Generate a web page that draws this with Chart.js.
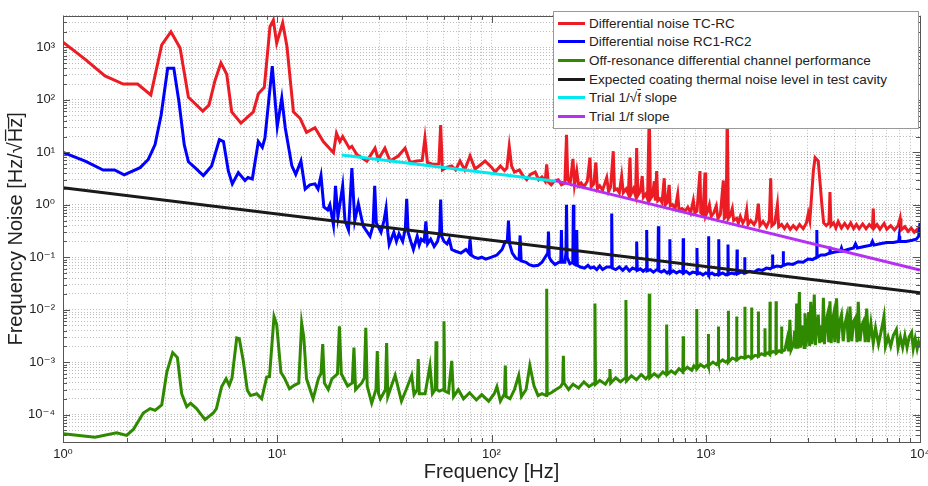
<!DOCTYPE html>
<html>
<head>
<meta charset="utf-8">
<script src="https://cdn.jsdelivr.net/npm/chart.js@4.4.1/dist/chart.umd.min.js"></script>
<style>
html, body { margin: 0; padding: 0; background: #fff; }
#wrap { position: relative; width: 928px; height: 486px; }
#legend { position: absolute; left: 553px; top: 11px; width: 364px; background: #fff; border: 1px solid #999;
  font-family: 'Liberation Sans', Arial, sans-serif; font-size: 13.5px; color: #222; padding: 2px 0 2px 0; }
.row { display: flex; align-items: center; height: 18.6px; white-space: nowrap; }
.swatch { width: 27px; height: 3px; margin: 0 4px 0 4px; }
.ov { text-decoration: overline; }
</style>
</head>
<body>
<div id="wrap">
  <canvas id="chart" width="928" height="486"></canvas>
  <div id="legend"></div>
</div>
<script>
// [frequency Hz, noise Hz/sqrt(Hz)]
const tcRc = [[1,1260],[1.27,590],[1.57,286],[1.91,200],[2.23,200],[2.57,124],[2.89,1120],[3.19,1990],[3.52,970],[3.85,112],[4.13,85],[4.49,61],[4.8,79],[5.12,231],[5.46,508],[5.81,308],[6.13,59],[6.77,36],[7.73,59],[8.16,130],[8.7,173],[9.25,2470],[9.59,3300],[9.94,1200],[10.6,2940],[11.1,1040],[11.9,59],[12.8,44],[13.7,24],[15.0,29.5],[16.4,16],[18.3,9.8],[18.9,23],[19.6,16],[20.2,20],[21.7,12],[22.3,13],[23.5,9.1],[26.2,6.8],[28.6,12],[29.6,7.3],[31.8,12],[33.6,6.8],[36.7,8.5],[39.5,12],[41.7,6.4],[44.8,6.8],[47.5,7],[48.9,18.7],[50.2,6.4],[53.5,5.9],[56.8,6],[57.9,33],[59,4.6],[62,5.2],[65.2,5.5],[68,4.6],[71.3,6.8],[75,4.6],[79.4,8.5],[83.8,4.8],[88,5.6],[93.3,6.8],[100,5.2],[104,4.2],[110,5.5],[115,4.5],[118,5],[121,13],[124,5.5],[128,4.2],[135,4.6],[140,3.6],[146,3.0],[152,3.8],[160,4.2],[166,3.0],[172,3.4],[178,2.8],[181,5.9],[184,2.7],[190,2.4],[196,2.8],[205,3.0],[212,2.4],[220,2.6],[224,21.5],[227,3.0],[233,2.6],[240,7.5],[244,2.4],[250,4.4],[255,2.3],[262,2.6],[270,2.2],[280,2.8],[288,7.9],[292,2.2],[300,2.5],[307,6.4],[312,2.0],[320,2.3],[330,1.9],[345,3.3],[352,1.8],[360,2.2],[370,10.5],[375,1.9],[385,2.0],[395,1.7],[405,3.5],[412,1.7],[425,2.0],[435,1.6],[443,7.9],[448,1.6],[460,2.0],[470,1.5],[476,12],[482,1.5],[495,1.8],[505,3.5],[512,1.4],[525,1.6],[535,1.3],[545,60],[552,1.3],[565,1.5],[575,2.8],[582,1.2],[590,4.4],[597,1.2],[610,1.3],[625,1.1],[640,3.2],[648,1.0],[660,1.1],[675,2.4],[683,0.95],[700,1.0],[720,0.85],[740,1.6],[750,0.8],[775,0.85],[800,0.75],[825,0.9],[850,0.7],[875,1.2],[890,0.7],[910,0.75],[940,4.4],[948,0.7],[970,0.65],[992,4.1],[1000,0.62],[1020,0.75],[1040,1.0],[1060,0.6],[1090,0.7],[1120,0.95],[1140,0.55],[1170,0.65],[1208,2.9],[1220,0.55],[1245,0.6],[1260,60],[1275,0.55],[1300,0.62],[1330,0.85],[1350,0.5],[1394,0.55],[1420,0.45],[1450,0.6],[1490,0.45],[1530,0.55],[1553,0.79],[1575,0.42],[1620,0.5],[1680,0.42],[1720,0.5],[1760,1.05],[1790,0.4],[1850,0.48],[1920,0.38],[1980,0.5],[2010,3.2],[2035,0.4],[2100,0.45],[2160,1.0],[2190,0.38],[2260,0.42],[2330,0.35],[2400,0.42],[2480,0.34],[2560,0.4],[2650,0.34],[2740,0.42],[2850,0.35],[2950,0.45],[3010,0.68],[3060,0.5],[3120,1.5],[3180,4.5],[3240,7.9],[3350,6.8],[3420,2.5],[3480,1.05],[3550,0.45],[3650,0.4],[3760,0.45],[3800,1.75],[3840,0.4],[3950,0.45],[4050,0.36],[4150,0.48],[4300,0.36],[4450,0.44],[4600,0.36],[4750,0.45],[4900,0.35],[5050,0.42],[5200,0.35],[5400,0.43],[5600,0.35],[5800,0.42],[6000,0.36],[6050,0.85],[6100,0.36],[6300,0.42],[6500,0.34],[6800,0.44],[7000,0.34],[7300,0.4],[7600,0.33],[7900,0.4],[8070,0.55],[8150,0.33],[8500,0.38],[8800,0.31],[9100,0.36],[9400,0.3],[9700,0.34],[9900,0.3],[10000,0.38]];

const rc1Rc2 = [[1,10],[1.27,6.8],[1.54,4.6],[1.74,4.6],[1.93,3.7],[2.29,5.1],[2.5,7.3],[2.69,14],[2.87,51],[3.08,400],[3.29,400],[3.48,90],[3.68,14],[3.85,6.6],[4.13,5.1],[4.52,3.6],[4.94,5.5],[5.37,17.4],[5.61,16],[5.91,4.4],[6.17,2.5],[6.58,4.1],[7.07,2.9],[7.3,3.3],[7.65,3.1],[8.16,16],[8.52,12.5],[8.76,18.7],[9.48,440],[10,31],[10.5,108],[10.9,29],[11.7,5.5],[12.2,3.8],[12.9,6.8],[13.5,2.0],[14.2,2.4],[15,2.5],[15.5,2.0],[16,3.6],[16.5,0.91],[17.2,0.8],[17.6,1.0],[18.3,0.41],[18.7,2.3],[19.2,0.59],[20.2,2.3],[20.7,0.5],[21.5,0.33],[22.3,5.0],[23,0.5],[23.9,1.05],[25.2,0.39],[27.1,0.25],[28,0.4],[28.5,2.3],[29,0.45],[30.5,0.3],[31.5,0.5],[32.2,0.85],[32.8,0.3],[33.3,0.175],[35,0.3],[36,0.2],[37,0.28],[38.5,0.2],[39.6,0.35],[40.2,1.3],[40.8,0.3],[42,0.2],[43.2,0.14],[45,0.25],[46,0.17],[47,0.22],[48.5,0.2],[49.4,0.48],[50.3,0.18],[52,0.22],[54,0.16],[56,0.2],[57.3,0.3],[57.9,1.25],[58.6,0.25],[60,0.2],[62,0.18],[63.5,0.22],[65.2,0.14],[68,0.13],[72,0.12],[76,0.14],[78.5,0.12],[79.4,0.22],[80.5,0.11],[83,0.1],[86.8,0.095],[90,0.1],[94,0.092],[100,0.1],[106,0.11],[112,0.14],[116,0.2],[118.5,0.2],[120,0.5],[121.5,0.18],[125,0.12],[130,0.095],[134.5,0.09],[136,0.26],[137.5,0.085],[145,0.08],[150,0.072],[157,0.068],[165,0.07],[172,0.08],[178,0.1],[183,0.12],[184.5,0.31],[186,0.1],[190,0.085],[198,0.072],[206,0.08],[210.5,0.08],[212,0.33],[213.5,0.08],[220,0.08],[222.5,0.12],[224,1.0],[225.5,0.1],[232,0.075],[239.5,0.08],[241,1.0],[242.5,0.075],[248.5,0.07],[250,0.33],[251.5,0.07],[260,0.065],[272,0.062],[282,0.07],[290,0.062],[300,0.065],[310,0.058],[320,0.068],[330,0.058],[345,0.065],[362,0.065],[364,0.68],[366,0.062],[380,0.058],[395,0.065],[410,0.056],[425,0.065],[440,0.055],[455,0.062],[473,0.058],[476,0.2],[479,0.056],[495,0.06],[510,0.054],[527,0.06],[530,0.33],[533,0.055],[550,0.058],[570,0.052],[590,0.058],[598,0.06],[601,0.39],[604,0.055],[620,0.052],[640,0.056],[660,0.05],[677,0.055],[680,0.22],[683,0.05],[705,0.055],[730,0.05],[755,0.054],[782,0.05],[785,0.23],[788,0.05],[810,0.054],[840,0.048],[870,0.052],[906,0.05],[910,0.15],[914,0.048],[940,0.05],[970,0.046],[1000,0.05],[1026,0.048],[1030,0.25],[1034,0.046],[1070,0.05],[1100,0.046],[1146,0.048],[1150,0.22],[1154,0.046],[1200,0.05],[1240,0.046],[1266,0.048],[1270,0.175],[1274,0.047],[1320,0.05],[1360,0.048],[1396,0.05],[1400,0.14],[1404,0.048],[1460,0.052],[1516,0.05],[1520,0.1],[1524,0.05],[1600,0.054],[1680,0.052],[1760,0.058],[1840,0.056],[1920,0.062],[2000,0.06],[2045,0.064],[2050,0.113],[2055,0.064],[2150,0.068],[2250,0.066],[2295,0.07],[2300,0.13],[2305,0.07],[2420,0.075],[2550,0.073],[2700,0.082],[2850,0.08],[3000,0.092],[3150,0.09],[3290,0.1],[3300,0.33],[3310,0.1],[3450,0.11],[3600,0.11],[3780,0.12],[3800,0.16],[3820,0.12],[4000,0.125],[4250,0.13],[4300,0.15],[4350,0.13],[4600,0.14],[4900,0.15],[5000,0.18],[5100,0.15],[5500,0.16],[5900,0.17],[6000,0.2],[6100,0.17],[6500,0.18],[7000,0.19],[7500,0.19],[7950,0.2],[8000,0.25],[8050,0.2],[8600,0.2],[9200,0.21],[9600,0.22],[9850,0.25],[9950,0.35],[10000,0.45]];

const offResonance = [[1,4.3e-5],[1.41,3.7e-5],[1.78,4.5e-5],[1.98,4e-5],[2.13,5.2e-5],[2.37,1.07e-4],[2.55,1.3e-4],[2.69,1.2e-4],[2.89,1.53e-4],[3.05,6.4e-4],[3.25,1.52e-3],[3.42,1.22e-3],[3.58,2.5e-4],[3.78,1.42e-4],[3.94,1.65e-4],[4.2,1.3e-4],[4.6,8e-5],[5.03,1.07e-4],[5.2,1.3e-4],[5.5,3.4e-4],[5.77,4.8e-4],[5.97,3.6e-4],[6.15,5e-4],[6.47,2.9e-3],[6.65,2.8e-3],[6.94,1.06e-3],[7.25,2.9e-4],[7.5,2.3e-4],[8.02,2.5e-4],[8.46,2e-4],[8.93,5.2e-4],[9.2,5.3e-4],[9.66,7.4e-3],[9.94,5.2e-3],[10.4,6.4e-4],[10.8,5e-4],[11.4,3.1e-4],[12,3.6e-4],[12.6,4e-4],[13,5.5e-3],[13.3,3e-3],[13.7,4.8e-4],[14.7,2e-4],[15.6,5e-4],[16,6e-4],[16.3,2.2e-3],[16.6,4e-4],[17.3,3e-4],[18,4.8e-4],[19.1,6e-4],[19.5,4.8e-3],[19.9,6e-4],[21.3,3.5e-4],[22.4,4e-4],[22.8,1.9e-3],[23.2,3e-4],[24.8,4e-4],[25.5,5e-4],[25.9,4.5e-3],[26.3,3.5e-4],[27.6,1.65e-4],[28.9,3e-4],[29.3,1.63e-3],[29.7,2.5e-4],[30.3,2e-4],[32,3e-4],[32.4,2.3e-3],[32.8,2.2e-4],[35.5,5.6e-4],[38,1.8e-4],[40,3e-4],[42.4,5.6e-4],[43.5,2.4e-4],[45,3e-4],[45.5,1.14e-3],[46,2.5e-4],[49,2.5e-4],[51.6,8.6e-4],[53,2.5e-4],[54.6,3e-4],[55.1,2.5e-3],[55.6,3e-4],[57,2.8e-4],[59.5,3e-4],[60,6e-3],[60.5,2.8e-4],[63,2.6e-4],[65.2,1.06e-3],[66.5,2.2e-4],[70,3e-4],[74,2e-4],[79,2.6e-4],[85,1.9e-4],[90,2.4e-4],[97,1.8e-4],[103,2.5e-4],[106,3.4e-4],[110,1.8e-4],[115,2.5e-4],[116,8.6e-4],[117,2.2e-4],[122,2e-4],[128,3e-4],[134,5.6e-4],[138,2.2e-4],[145,3e-4],[151,8.6e-4],[158,3.5e-4],[165,2.3e-4],[172,2.5e-4],[180,2.3e-4],[181,0.025],[182,2.4e-4],[190,2.6e-4],[200,3e-4],[210,3.4e-4],[215,4e-4],[216.5,1.32e-3],[218,4e-4],[229,3e-4],[240,3.8e-4],[255,3.2e-4],[270,4.2e-4],[285,3.4e-4],[302,4e-4],[304,0.0131],[306,3.8e-4],[320,4.5e-4],[340,3.8e-4],[355,5e-4],[357,7.4e-4],[360,4e-4],[380,5e-4],[400,4.2e-4],[421,5e-4],[424,0.0152],[427,4.4e-4],[450,5.5e-4],[475,4.6e-4],[500,5.8e-4],[525,4.8e-4],[542,5.5e-4],[545,0.02],[548,5e-4],[575,6e-4],[600,5.2e-4],[630,6.5e-4],[654,5.8e-4],[657,5.2e-3],[660,5.8e-4],[690,6.8e-4],[720,6e-4],[750,7.5e-4],[782,6.5e-4],[785,3.1e-3],[788,6.8e-4],[820,8e-4],[860,7e-4],[880,8.5e-4],[905,7.5e-4],[908,0.0103],[911,7.5e-4],[945,9e-4],[985,8e-4],[1025,9e-4],[1028,3.45e-3],[1031,8.5e-4],[1080,1e-3],[1120,9e-4],[1142,1e-3],[1145,4.8e-3],[1148,9.5e-4],[1200,1.1e-3],[1240,1e-3],[1272,1.1e-3],[1275,9.5e-3],[1278,1e-3],[1330,1.2e-3],[1390,1.1e-3],[1394,7.4e-3],[1398,1.1e-3],[1460,1.25e-3],[1520,1.2e-3],[1524,0.0114],[1528,1.2e-3],[1580,1.3e-3],[1633,1.2e-3],[1637,0.011],[1641,1.2e-3],[1700,1.35e-3],[1756,1.3e-3],[1760,9.2e-3],[1764,1.3e-3],[1820,1.45e-3],[1886,1.35e-3],[1890,4.4e-3],[1894,1.4e-3],[1950,1.5e-3],[1990,1.4e-3],[1995,0.0141],[2000,1.45e-3],[2060,1.6e-3],[2125,1.5e-3],[2130,0.0145],[2135,1.5e-3],[2200,1.65e-3],[2255,1.55e-3],[2260,4.8e-3],[2265,1.6e-3],[2340,1.7e-3],[2400,2.8e-3],[2440,1.6e-3],[2470,6.4e-3],[2500,1.7e-3],[2570,2.2e-3],[2600,4e-3],[2630,1.8e-3],[2655,0.0131],[2690,1.8e-3],[2735,0.0217],[2770,1.9e-3],[2820,3e-3],[2850,5e-3],[2880,1.9e-3],[2905,8.5e-3],[2935,2e-3],[2980,3.5e-3],[3020,9e-3],[3055,2e-3],[3090,0.0141],[3130,2.2e-3],[3170,4e-3],[3210,0.0194],[3250,2.1e-3],[3300,5e-3],[3350,8e-3],[3400,2.3e-3],[3450,5e-3],[3500,2.4e-3],[3540,0.0168],[3580,2.2e-3],[3640,6e-3],[3700,8e-3],[3750,2.4e-3],[3800,0.0145],[3850,2.3e-3],[3900,6e-3],[3950,8e-3],[4000,2.4e-3],[4080,0.0165],[4150,2.3e-3],[4220,6e-3],[4300,8e-3],[4380,2.5e-3],[4450,5e-3],[4550,7.5e-3],[4630,2.4e-3],[4710,0.0114],[4800,2.5e-3],[4900,6e-3],[5000,7e-3],[5080,2.4e-3],[5150,0.0141],[5250,2.5e-3],[5350,5e-3],[5450,6e-3],[5550,2.4e-3],[5640,0.0105],[5750,2.4e-3],[5900,5.5e-3],[6050,2.3e-3],[6200,4.5e-3],[6400,2.2e-3],[6600,4e-3],[6790,7.4e-3],[6900,2e-3],[7100,3e-3],[7300,2e-3],[7500,3.2e-3],[7760,4.2e-3],[7900,1.9e-3],[8100,3e-3],[8300,1.9e-3],[8500,3.2e-3],[8700,1.9e-3],[8900,3e-3],[9140,3.7e-3],[9300,1.8e-3],[9500,2.8e-3],[9700,1.8e-3],[9850,2.4e-3],[10000,1.9e-3]];

const coatingNoise = [[1,2.1],[10000,0.021]];
const trialSqrt = [[20,8.9],[200,2.8]];
const trialInv = [[200,2.85],[10000,0.057]];

const seriesLabels = ['Differential noise TC-RC', 'Differential noise RC1-RC2', 'Off-resonance differential channel performance',
  'Expected coating thermal noise level in test cavity', 'Trial 1/√f slope', 'Trial 1/f slope'];
const seriesData = [tcRc, rc1Rc2, offResonance, coatingNoise, trialSqrt, trialInv];
const seriesColors = ['#ec1c24', '#0000ff', '#2f8a00', '#1a1a1a', '#00e8f0', '#b530f0'];

const xRange = [1, 1e4];
const yRange = [3e-5, 4e3];

const supDigits = {'0':'⁰','1':'¹','2':'²','3':'³','4':'⁴','5':'⁵','6':'⁶','7':'⁷','8':'⁸','9':'⁹','-':'⁻'};
function isDecade(v) {
  const l = Math.log10(v);
  return Math.abs(l - Math.round(l)) < 1e-9;
}
function decadeLabel(v) {
  if (!isDecade(v)) return '';
  const e = String(Math.round(Math.log10(v)));
  return '10' + e.split('').map(c => supDigits[c]).join('');
}
function logTicks(min, max) {
  const t = [];
  for (let e = -6; e <= 5; e++) {
    for (let k = 1; k <= 9; k++) {
      const v = k * Math.pow(10, e);
      if (v >= min * 0.9999 && v <= max * 1.0001) t.push({value: v});
    }
  }
  return t;
}

// box round the plot with small inward ticks, like the original
const frame = {
  id: 'frame',
  afterDatasetsDraw(chart) {
    const {ctx, chartArea: a, scales} = chart;
    ctx.save();
    ctx.strokeStyle = '#555';
    ctx.lineWidth = 1;
    ctx.beginPath();
    scales.x.ticks.forEach(t => {
      const px = Math.round(scales.x.getPixelForValue(t.value)) + 0.5;
      const len = isDecade(t.value) ? 7 : 4;
      ctx.moveTo(px, a.bottom); ctx.lineTo(px, a.bottom - len);
      ctx.moveTo(px, a.top); ctx.lineTo(px, a.top + len);
    });
    scales.y.ticks.forEach(t => {
      const py = Math.round(scales.y.getPixelForValue(t.value)) + 0.5;
      const len = isDecade(t.value) ? 7 : 4;
      ctx.moveTo(a.left, py); ctx.lineTo(a.left + len, py);
      ctx.moveTo(a.right, py); ctx.lineTo(a.right - len, py);
    });
    ctx.stroke();
    ctx.strokeRect(Math.round(a.left) + 0.5, Math.round(a.top) + 0.5, Math.round(a.right - a.left), Math.round(a.bottom - a.top));
    ctx.restore();
  }
};

const datasets = seriesData.map((pts, i) => ({
  label: seriesLabels[i],
  data: pts.map(p => ({x: p[0], y: p[1]})),
  borderColor: seriesColors[i],
  borderWidth: 3,
  pointRadius: 0,
  tension: 0,
  fill: false,
  order: 6 - i
}));

const gridStyle = {color: 'rgba(0,0,0,0.26)', lineWidth: 1, drawTicks: false, tickLength: 0};
const tickFont = {family: "'Liberation Sans', 'DejaVu Sans', sans-serif", size: 13};

new Chart(document.getElementById('chart'), {
  type: 'line',
  data: {datasets: datasets},
  plugins: [frame],
  options: {
    responsive: false,
    animation: false,
    layout: {padding: {top: 8, right: 8, left: 0, bottom: 0}},
    plugins: {legend: {display: false}, tooltip: {enabled: false}},
    scales: {
      x: {
        type: 'logarithmic',
        min: xRange[0], max: xRange[1],
        grid: gridStyle,
        border: {display: false, dash: [1, 2]},
        afterBuildTicks: s => { s.ticks = logTicks(s.min, s.max); },
        afterFit: s => { s.paddingLeft = 0; s.paddingRight = 0; s.height = 44; },
        ticks: {autoSkip: false, maxRotation: 0, padding: 5, color: '#222', font: tickFont, callback: v => decadeLabel(v)},
        title: {display: true, text: 'Frequency [Hz]', color: '#222', padding: {top: 0, bottom: 2},
          font: {family: "'Liberation Sans', sans-serif", size: 20}}
      },
      y: {
        type: 'logarithmic',
        min: yRange[0], max: yRange[1],
        grid: gridStyle,
        border: {display: false, dash: [1, 2]},
        afterBuildTicks: s => { s.ticks = logTicks(s.min, s.max); },
        afterFit: s => { s.width = 63; },
        ticks: {autoSkip: false, padding: 8, color: '#222', font: tickFont, callback: v => decadeLabel(v)},
        title: {display: true, text: 'Frequency Noise [Hz/√H̅z̅]', color: '#222', padding: {top: 4, bottom: 0},
          font: {family: "'Liberation Sans', sans-serif", size: 20}}
      }
    }
  }
});

// legend box drawn from the same labels and colours
const legend = document.getElementById('legend');
seriesLabels.forEach((lab, i) => {
  const row = document.createElement('div');
  row.className = 'row';
  const sw = document.createElement('span');
  sw.className = 'swatch';
  sw.style.background = seriesColors[i];
  const txt = document.createElement('span');
  txt.innerHTML = lab.replace(/√(\w+)/, '√<span class="ov">$1</span>');
  row.appendChild(sw);
  row.appendChild(txt);
  legend.appendChild(row);
});
</script>
</body>
</html>
